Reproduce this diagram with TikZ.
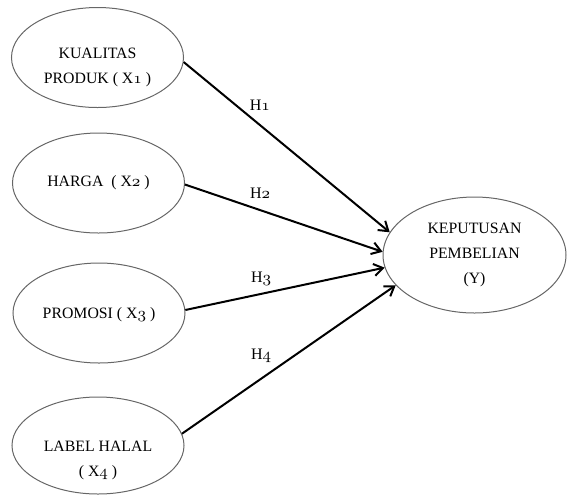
\documentclass[tikz,border=0pt]{standalone}
\usepackage{fontspec}
\setmainfont{Liberation Serif}
\usetikzlibrary{shapes.geometric,arrows.meta}
\newcommand{\osn}[1]{\legacyoldstylenums{#1}}
\tikzset{
  var/.style={ellipse, draw=black!60, line width=.5pt, minimum width=86pt,
    minimum height=50pt, inner sep=0pt},
  vartext/.style={align=center, inner sep=0pt,
    font=\fontsize{7.9}{12.3}\selectfont},
  hyparrow/.style={line width=1pt, -{Straight Barb[length=4.5pt,width=6pt]}},
  hyp/.style={font=\fontsize{8}{9}\selectfont, inner sep=2pt}
}
\begin{document}
\begin{tikzpicture}[x=.5pt,y=-.5pt]
  \useasboundingbox (0,0) rectangle (569,495);
  % variables
  \node[var, label={[vartext, name=x1t, yshift=-5pt]center:{KUALITAS\\PRODUK ( X\osn{1} )}}]
    (x1) at (97.5,57.5) {};
  \node[var, label={[vartext, name=x2t]center:{HARGA~~( X\osn{2} )}}]
    (x2) at (98.5,183) {};
  \node[var, label={[vartext, name=x3t, yshift=-1pt]center:{PROMOSI ( X\osn{3} )}}]
    (x3) at (99,313) {};
  \node[var, minimum height=48.5pt, label={[vartext, name=x4t, yshift=-7.5pt]center:{LABEL HALAL\\( X\osn{4} )}}]
    (x4) at (98,445.5) {};
  \node[var, minimum width=91.5pt, minimum height=58pt, label={[vartext, name=yt]center:{KEPUTUSAN\\PEMBELIAN\\(Y)}}]
    (y) at (474.5,255) {};
  % hypotheses
  \draw[hyparrow] (x1.-3) -- node[hyp, pos=.37, above=5pt] {H\osn{1}} (y.165);
  \draw[hyparrow] (x2.-1) -- node[hyp, pos=.38, above=3.3pt] {H\osn{2}} (y.178);
  \draw[hyparrow] (x3.2) -- node[hyp, pos=.38, above=1.6pt] {H\osn{3}} (y.188);
  \draw[hyparrow] (x4.8) -- node[hyp, pos=.37, above=5.4pt] {H\osn{4}} (y.201);
\end{tikzpicture}
\end{document}
